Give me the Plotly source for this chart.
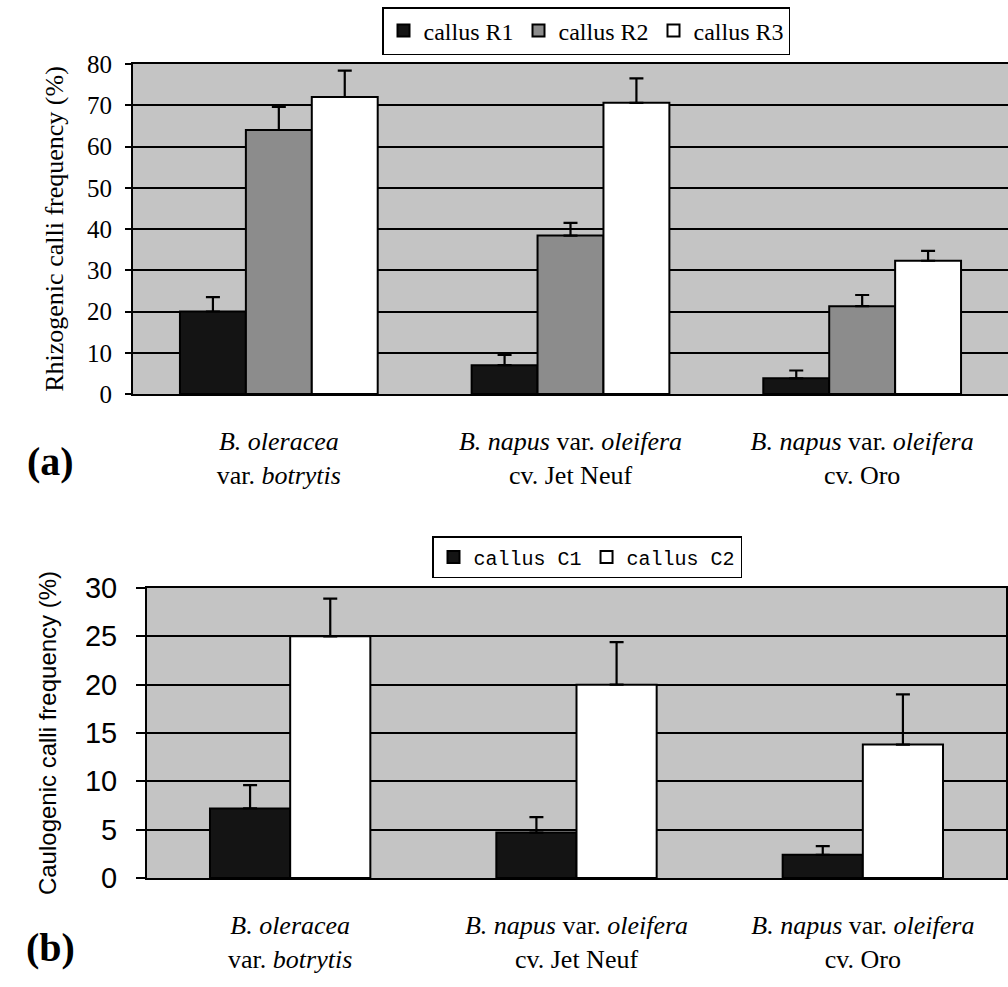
import plotly.graph_objects as go

# Genotypes (category labels shown under each group)
genotypes = [
    "<i>B. oleracea</i><br>var. <i>botrytis</i>",
    "<i>B. napus</i> var. <i>oleifera</i><br>cv. Jet Neuf",
    "<i>B. napus</i> var. <i>oleifera</i><br>cv. Oro",
]

# (a) rhizogenic calli frequency (%) and upper error bars
rhizo_R1 = [20.0, 7.0, 3.8]
rhizo_R1_err = [3.5, 2.5, 1.9]
rhizo_R2 = [64.0, 38.4, 21.3]
rhizo_R2_err = [5.6, 3.1, 2.7]
rhizo_R3 = [72.0, 70.6, 32.3]
rhizo_R3_err = [6.4, 5.9, 2.4]

# (b) caulogenic calli frequency (%) and upper error bars
caulo_C1 = [7.2, 4.7, 2.4]
caulo_C1_err = [2.4, 1.6, 0.9]
caulo_C2 = [25.0, 20.0, 13.8]
caulo_C2_err = [3.9, 4.4, 5.2]

W, H = 1008, 987
SERIF = "Liberation Serif"
SANS = "Liberation Sans"


def px_x(p):
    return p / W


def px_y(p):
    return 1 - p / H


fig = go.Figure()


def add_bar(name, vals, errs, color, width, offset, xa, ya, legend):
    fig.add_trace(go.Bar(
        x=genotypes, y=vals, name=name,
        marker=dict(color=color, line=dict(color="black", width=2)),
        width=width, offset=offset,
        error_y=dict(type="data", array=errs, arrayminus=[0] * len(errs),
                     symmetric=False, color="black", thickness=2.2, width=7),
        xaxis=xa, yaxis=ya, legend=legend,
    ))


wa = 0.226
add_bar("callus R1", rhizo_R1, rhizo_R1_err, "#141414", wa, -1.5 * wa, "x", "y", "legend")
add_bar("callus R2", rhizo_R2, rhizo_R2_err, "#8c8c8c", wa, -0.5 * wa, "x", "y", "legend")
add_bar("callus R3", rhizo_R3, rhizo_R3_err, "#ffffff", wa, 0.5 * wa, "x", "y", "legend")

wb = 0.28
add_bar("callus C1", caulo_C1, caulo_C1_err, "#141414", wb, -wb, "x2", "y2", "legend2")
add_bar("callus C2", caulo_C2, caulo_C2_err, "#ffffff", wb, 0.0, "x2", "y2", "legend2")

xcommon = dict(
    type="category", range=[-0.5, 2.5], showgrid=False, zeroline=False,
    automargin=False,
    showline=True, mirror=True, linecolor="black", linewidth=2, ticks="",
    tickfont=dict(family=SERIF, size=26, color="black"),
)
ycommon = dict(
    showgrid=True, gridcolor="black", gridwidth=1.5, zeroline=False,
    automargin=False,
    showline=True, linecolor="black", linewidth=2,
    ticks="outside", tickcolor="black", tickwidth=1.5,
)

fig.update_layout(
    template="none",
    width=W, height=H,
    margin=dict(l=0, r=0, t=0, b=0, autoexpand=False),
    font=dict(family=SERIF, color="black"),
    paper_bgcolor="white", plot_bgcolor="#c4c4c4",
    barmode="overlay",
    showlegend=True,
    xaxis=dict(xcommon, domain=[px_x(133), 1.0], anchor="y", ticklabelstandoff=23),
    yaxis=dict(ycommon, domain=[px_y(394), px_y(64)], anchor="x",
               range=[0, 80], dtick=10, ticklen=6, ticklabelstandoff=8,
               tickfont=dict(family=SERIF, size=25, color="black"),
               title=dict(text="Rhizogenic calli frequency (%)", standoff=16,
                          font=dict(family=SERIF, size=26, color="black"))),
    xaxis2=dict(xcommon, domain=[px_x(147), px_x(1006)], anchor="y2", ticklabelstandoff=23),
    yaxis2=dict(ycommon, domain=[px_y(878), px_y(588)], anchor="x2", mirror=True,
                range=[0, 30], dtick=5, ticklen=9, ticklabelstandoff=13,
                tickfont=dict(family=SANS, size=29, color="black"),
                title=dict(text="Caulogenic calli frequency (%)", standoff=22,
                           font=dict(family=SANS, size=24, color="black"))),
    legend=dict(orientation="h", x=px_x(586), xanchor="center", y=px_y(7), yanchor="top",
                bgcolor="white", bordercolor="black", borderwidth=1.5,
                font=dict(family=SERIF, size=24, color="black")),
    legend2=dict(orientation="h", x=px_x(587), xanchor="center", y=px_y(536), yanchor="top",
                 bgcolor="white", bordercolor="black", borderwidth=1.5,
                 font=dict(family="Liberation Mono", size=20, color="black")),
    annotations=[
        dict(text="<b>(a)</b>", x=px_x(50), y=px_y(461), xref="paper", yref="paper",
             xanchor="center", yanchor="middle",
             showarrow=False, font=dict(family=SERIF, size=40, color="black")),
        dict(text="<b>(b)</b>", x=px_x(50), y=px_y(947), xref="paper", yref="paper",
             xanchor="center", yanchor="middle",
             showarrow=False, font=dict(family=SERIF, size=40, color="black")),
    ],
)

fig.write_html("out.html")
